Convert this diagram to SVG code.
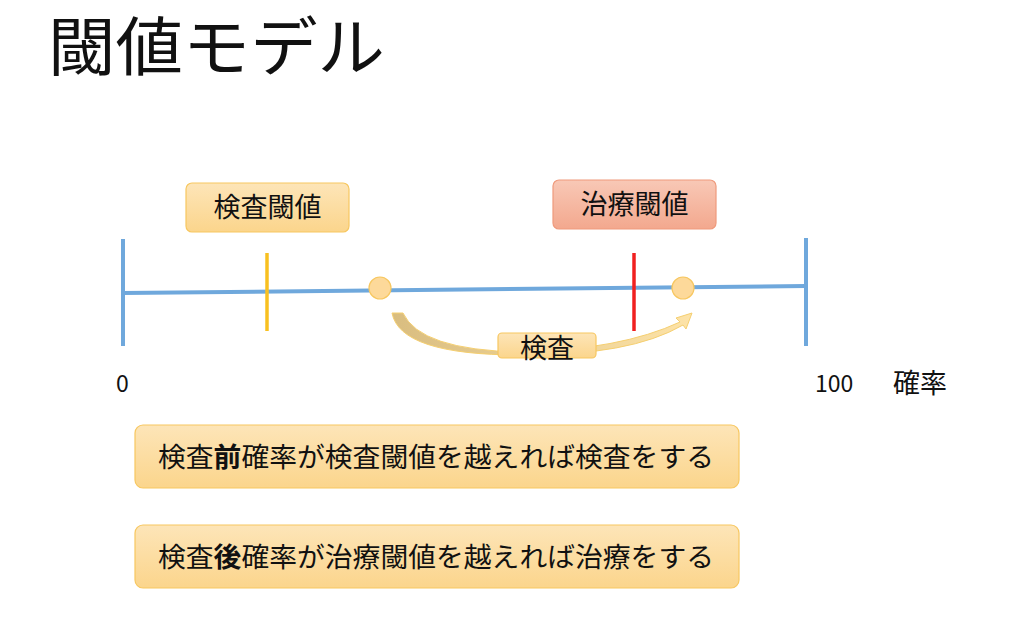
<svg xmlns="http://www.w3.org/2000/svg" width="1024" height="620" viewBox="0 0 1024 620">
<defs>
<linearGradient id="yg" x1="0" y1="0" x2="0" y2="1"><stop offset="0" stop-color="#fde5b8"/><stop offset="1" stop-color="#fbd58c"/></linearGradient>
<linearGradient id="rg" x1="0" y1="0" x2="0" y2="1"><stop offset="0" stop-color="#f8c8b6"/><stop offset="1" stop-color="#f3a88e"/></linearGradient>
<linearGradient id="ag" x1="0" y1="0" x2="1" y2="0"><stop offset="0" stop-color="#d9bd80"/><stop offset="1" stop-color="#fde3a8"/></linearGradient>
</defs>
<style>
text{font-family:"Noto Sans CJK JP","Liberation Sans",sans-serif;fill:#111}
.yb{fill:url(#yg);stroke:#f7c760;stroke-width:1.2}
.rb{fill:url(#rg);stroke:#ef9a7c;stroke-width:1.2}
.ax{stroke:#6fa8dc;stroke-width:4;fill:none}
</style>
<text x="48" y="70" font-size="64" textLength="337" lengthAdjust="spacingAndGlyphs">閾値モデル</text>
<g id="connectors">
<line class="ax" x1="123" y1="293" x2="806" y2="286"/>
<line class="ax" x1="123" y1="239" x2="123" y2="346"/>
<line class="ax" x1="806" y1="238" x2="806" y2="346"/>
<line x1="267" y1="253" x2="267" y2="331" stroke="#f8c020" stroke-width="3.5"/>
<line x1="634" y1="253" x2="634" y2="331" stroke="#f02020" stroke-width="3.5"/>
<path d="M392,313 L403,313 Q420,350 520,352 Q620,350 680,322 L676,318 L692,313 L686,329 L683,325 Q630,356 520,355 Q400,355 392,313 Z" fill="url(#ag)" stroke="#f5cf70" stroke-width="1"/>
</g>
<g id="p1"><circle cx="380" cy="288" r="11" fill="#fdd99a" stroke="#f7c760" stroke-width="1.2"/></g>
<g id="p2"><circle cx="683" cy="288" r="11" fill="#fdd99a" stroke="#f7c760" stroke-width="1.2"/></g>
<g id="kensa"><rect class="yb" x="498" y="333" width="98" height="25" rx="4"/><text x="547" y="358" font-size="27" text-anchor="middle">検査</text></g>
<g id="t1"><rect class="yb" x="186" y="183" width="163" height="49" rx="6"/><text x="267.5" y="217" font-size="27" text-anchor="middle">検査閾値</text></g>
<g id="t2"><rect class="rb" x="553" y="180" width="163" height="49" rx="6"/><text x="634.5" y="214" font-size="27" text-anchor="middle">治療閾値</text></g>
<text x="116" y="392" font-size="23" font-family="Liberation Sans,sans-serif">0</text>
<text x="815" y="392" font-size="23" font-family="Liberation Sans,sans-serif">100</text>
<text x="893" y="393" font-size="27">確率</text>
<g id="r1"><rect class="yb" x="135" y="425" width="604" height="63" rx="8"/><text x="158" y="467" font-size="27" textLength="556" lengthAdjust="spacingAndGlyphs">検査<tspan font-weight="bold">前</tspan>確率が検査閾値を越えれば検査をする</text></g>
<g id="r2"><rect class="yb" x="135" y="525" width="604" height="63" rx="8"/><text x="158" y="567" font-size="27" textLength="556" lengthAdjust="spacingAndGlyphs">検査<tspan font-weight="bold">後</tspan>確率が治療閾値を越えれば治療をする</text></g>
</svg>
